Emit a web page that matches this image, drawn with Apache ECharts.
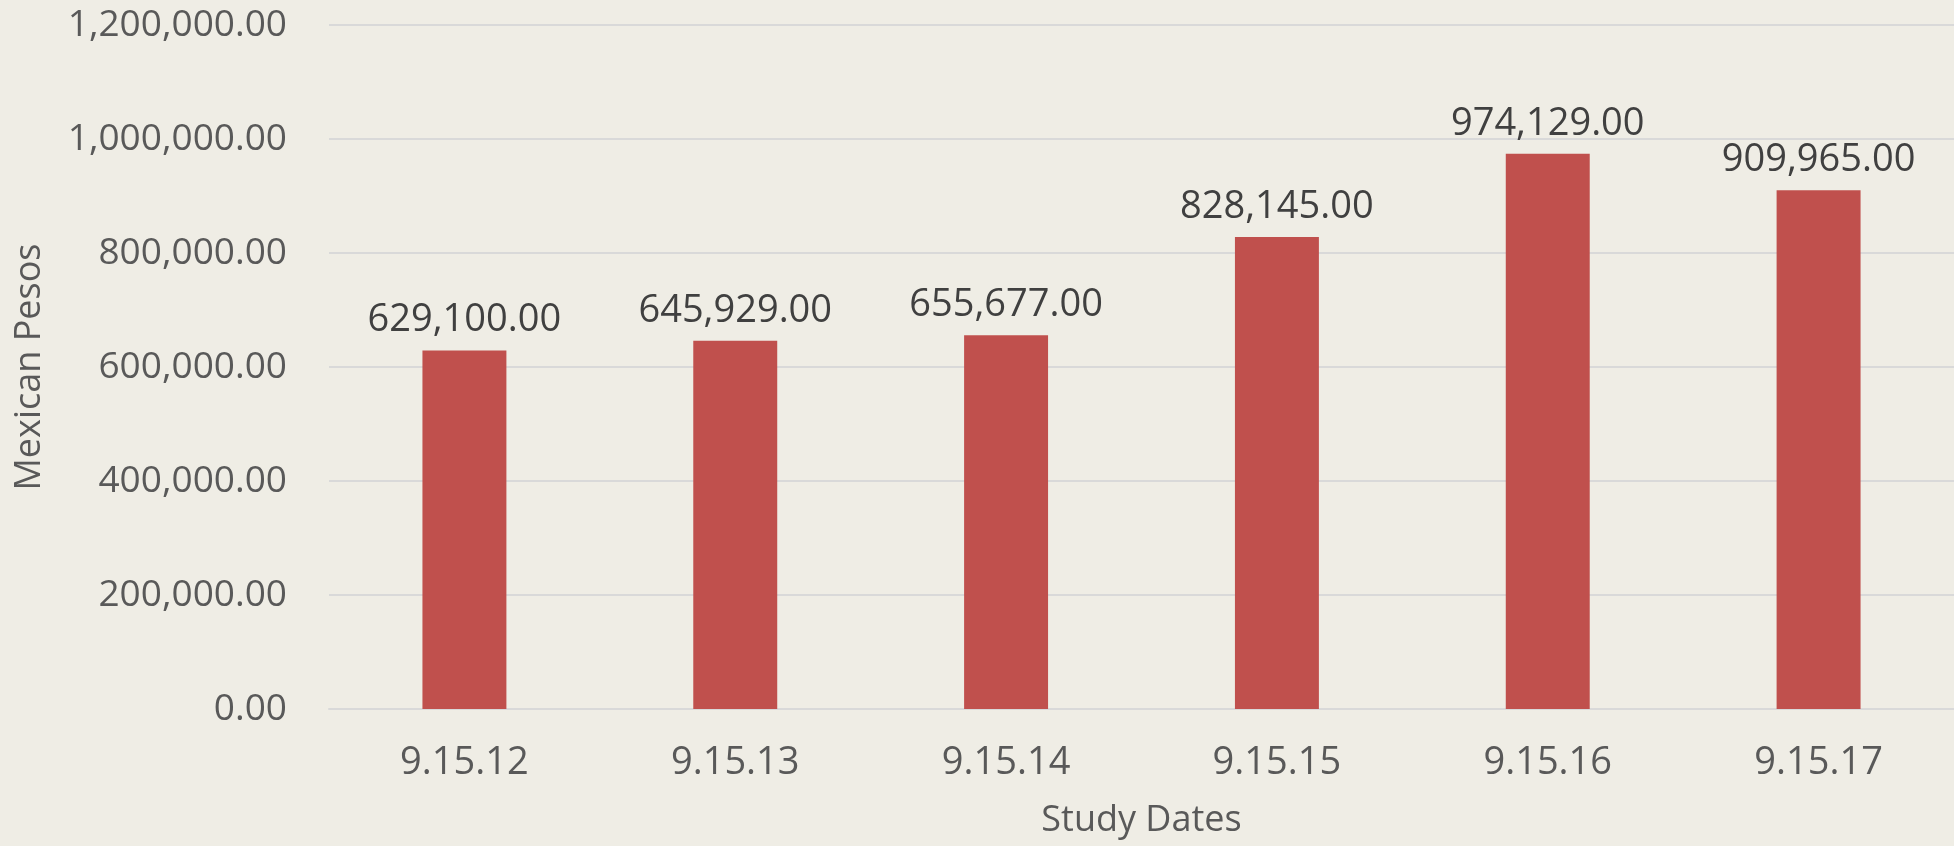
<!DOCTYPE html>
<html>
<head>
<meta charset="utf-8">
<script src="https://cdn.jsdelivr.net/npm/echarts@6/dist/echarts.min.js"></script>
<style>
html,body{margin:0;padding:0;background:#EFEDE5;}
#c{width:1954px;height:846px;}
</style>
</head>
<body>
<div id="c"></div>
<script>
const categories = ['9.15.12', '9.15.13', '9.15.14', '9.15.15', '9.15.16', '9.15.17'];
const values = [629100, 645929, 655677, 828145, 974129, 909965];
const yTicks = { min: 0, max: 1200000, interval: 200000 };
const yName = 'Mexican Pesos';
const xName = 'Study Dates';

function fmt(v) {
  const s = Number(v).toFixed(2);
  const parts = s.split('.');
  parts[0] = parts[0].replace(/\B(?=(\d{3})+(?!\d))/g, ',');
  return parts.join('.');
}

const FONT = '"Open Sans", "Noto Sans", sans-serif';
const chart = echarts.init(document.getElementById('c'), null, { renderer: 'canvas' });
chart.setOption({
  backgroundColor: '#EFEDE5',
  animation: false,
  grid: { left: 329, right: 0, top: 25, bottom: 137, containLabel: false },
  xAxis: {
    type: 'category',
    data: categories,
    name: xName,
    nameLocation: 'middle',
    nameGap: 94,
    nameTextStyle: { fontFamily: FONT, fontSize: 36, color: '#595959' },
    axisLine: { show: true, lineStyle: { color: '#D9D9D9', width: 2 } },
    axisTick: { show: false },
    axisLabel: { fontFamily: FONT, fontSize: 38, color: '#595959', margin: 35 }
  },
  yAxis: {
    type: 'value',
    min: yTicks.min,
    max: yTicks.max,
    interval: yTicks.interval,
    name: yName,
    nameLocation: 'middle',
    nameGap: 281,
    nameRotate: 90,
    nameTextStyle: { fontFamily: FONT, fontSize: 36, color: '#595959' },
    axisLine: { show: false },
    axisTick: { show: false },
    splitLine: { lineStyle: { color: '#D9D9D9', width: 2 } },
    axisLabel: { fontFamily: FONT, fontSize: 37, color: '#595959', margin: 42, formatter: fmt }
  },
  series: [{
    type: 'bar',
    data: values,
    barWidth: '31%',
    itemStyle: { color: '#C0504D' },
    label: {
      show: true,
      position: 'top',
      distance: 11,
      fontFamily: FONT,
      fontSize: 38,
      color: '#404040',
      formatter: p => fmt(p.value)
    }
  }]
});
</script>
</body>
</html>
